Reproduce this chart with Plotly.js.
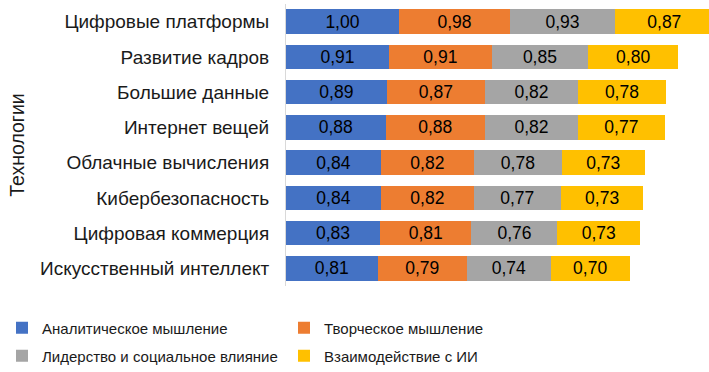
<!DOCTYPE html>
<html><head><meta charset="utf-8">
<script src="https://cdn.plot.ly/plotly-3.0.1.min.js"></script>
<style>body{margin:0;background:#fff}#chart{width:709px;height:372px}</style>
</head><body><div id="chart"></div>
<script>
const categories = ["Цифровые платформы","Развитие кадров","Большие данные","Интернет вещей","Облачные вычисления","Кибербезопасность","Цифровая коммерция","Искусственный интеллект"];
const seriesNames = ["Аналитическое мышление","Творческое мышление","Лидерство и социальное влияние","Взаимодействие с ИИ"];
const analytic = [1.00,0.91,0.89,0.88,0.84,0.84,0.83,0.81];
const creative = [0.98,0.91,0.87,0.88,0.82,0.82,0.81,0.79];
const leadership = [0.93,0.85,0.82,0.82,0.78,0.77,0.76,0.74];
const aiInteraction = [0.87,0.80,0.78,0.77,0.73,0.73,0.73,0.70];
const colors = ["#4472C4","#ED7D31","#A5A5A5","#FFC000"];
const allSeries = [analytic, creative, leadership, aiInteraction];
const legendIds = ['legend','legend2','legend3','legend4'];

const traces = allSeries.map((vals,i)=>({
  type:'bar', orientation:'h', name:seriesNames[i], x:vals, y:categories,
  marker:{color:colors[i]}, legend:legendIds[i],
  text:vals, texttemplate:'%{x:.2f}', textposition:'inside', insidetextanchor:'middle',
  textfont:{family:'Liberation Sans, Arial, sans-serif', size:17.5, color:'#000'},
  constraintext:'none', hoverinfo:'skip'
}));

function leg(xpx, ypx){
  return {orientation:'h', x:xpx/709, xref:'container', y:1-ypx/372, yref:'container',
    xanchor:'left', yanchor:'middle', itemwidth:30,
    bgcolor:'rgba(0,0,0,0)',
    font:{family:'Liberation Sans, Arial, sans-serif', size:15, color:'#1a1a1a'}};
}

const layout = {
  width:709, height:372, separators:', ',
  margin:{l:286,r:0,t:4,b:86},
  barmode:'stack', bargap:0.3,
  paper_bgcolor:'#fff', plot_bgcolor:'#fff',
  font:{family:'Liberation Sans, Arial, sans-serif', size:15, color:'#000'},
  xaxis:{range:[0,3.74], visible:false, fixedrange:true},
  yaxis:{autorange:'reversed', showline:true, linecolor:'#d9d9d9', linewidth:1,
    ticks:'', ticklabelstandoff:12, showgrid:false, automargin:false,
    tickfont:{size:19, color:'#1a1a1a'},
    title:{text:'Технологии', font:{size:19.5, color:'#1a1a1a'}, standoff:10}},
  showlegend:true,
  legend:leg(2,328),
  legend2:leg(284,328),
  legend3:leg(2,356),
  legend4:leg(284,356)
};
Plotly.newPlot('chart', traces, layout, {displayModeBar:false, staticPlot:true});
</script></body></html>
